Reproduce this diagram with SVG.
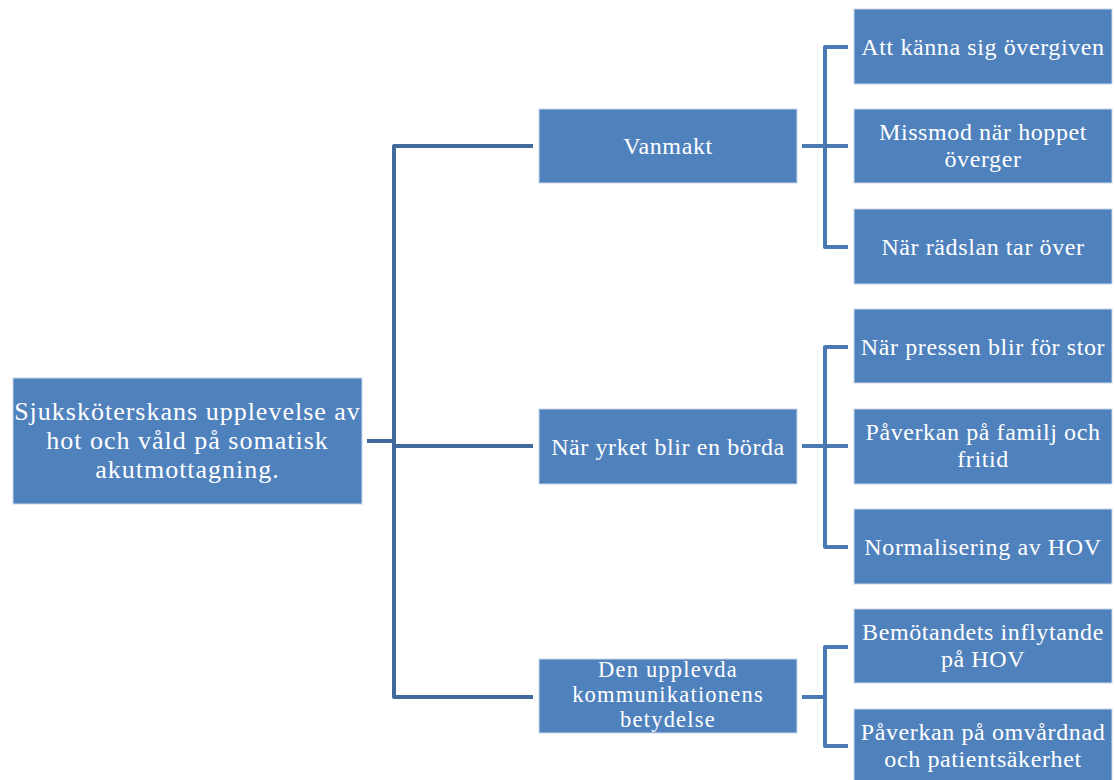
<svg xmlns="http://www.w3.org/2000/svg" width="1115" height="780" viewBox="0 0 1115 780">
<style>
.box{fill:#4F81BD;stroke:#c9d7ea;stroke-width:1}
.t{font-family:"Liberation Serif","DejaVu Serif",serif;fill:#ffffff;text-anchor:middle;font-size:24px;letter-spacing:0.6px}
.root{font-size:26px;letter-spacing:1px}
.tight{font-size:22.5px;letter-spacing:1.2px}
.cl{fill:none;stroke:#41699c;stroke-width:4;stroke-linejoin:round;stroke-linecap:butt}
.cr{fill:none;stroke:#4a79b4;stroke-width:4;stroke-linejoin:round;stroke-linecap:butt}
</style>
<rect width="1115" height="780" fill="#ffffff"/>
<g id="connectors">
<path class="cl" d="M367 441 H394"/>
<path class="cl" d="M533 146 H394 V697 H533"/>
<path class="cl" d="M394 446 H533"/>
<path class="cr" d="M802 146 H825"/>
<path class="cr" d="M848 47 H825 V247 H848"/>
<path class="cr" d="M825 146 H848"/>
<path class="cr" d="M802 446 H825"/>
<path class="cr" d="M848 347 H825 V547 H848"/>
<path class="cr" d="M825 446 H848"/>
<path class="cr" d="M802 697 H825"/>
<path class="cr" d="M848 647 H825 V746 H848"/>
</g>
<g id="root"><rect class="box" x="13" y="378" width="349" height="126"/>
<text class="t root" x="187.5"><tspan x="187.5" y="420">Sjuksköterskans upplevelse av</tspan><tspan x="187.5" y="449">hot och våld på somatisk</tspan><tspan x="187.5" y="478">akutmottagning.</tspan></text></g>
<g id="vanmakt"><rect class="box" x="539" y="109" width="258" height="74"/>
<text class="t" x="668" y="154">Vanmakt</text></g>
<g id="yrket"><rect class="box" x="539" y="409" width="258" height="75"/>
<text class="t" x="668" y="455">När yrket blir en börda</text></g>
<g id="kommunikation"><rect class="box" x="539" y="659" width="258" height="74"/>
<text class="t tight"><tspan x="668" y="677">Den upplevda</tspan><tspan x="668" y="702">kommunikationens</tspan><tspan x="668" y="727">betydelse</tspan></text></g>
<g id="c1"><rect class="box" x="854" y="9" width="258" height="75"/>
<text class="t" x="983" y="55">Att känna sig övergiven</text></g>
<g id="c2"><rect class="box" x="854" y="109" width="258" height="74"/>
<text class="t"><tspan x="983" y="140">Missmod när hoppet</tspan><tspan x="983" y="167">överger</tspan></text></g>
<g id="c3"><rect class="box" x="854" y="209" width="258" height="75"/>
<text class="t" x="983" y="255">När rädslan tar över</text></g>
<g id="c4"><rect class="box" x="854" y="309" width="258" height="74"/>
<text class="t" x="983" y="355">När pressen blir för stor</text></g>
<g id="c5"><rect class="box" x="854" y="409" width="258" height="75"/>
<text class="t"><tspan x="983" y="440">Påverkan på familj och</tspan><tspan x="983" y="467">fritid</tspan></text></g>
<g id="c6"><rect class="box" x="854" y="509" width="258" height="75"/>
<text class="t" x="983" y="555">Normalisering av HOV</text></g>
<g id="c7"><rect class="box" x="854" y="609" width="258" height="74"/>
<text class="t"><tspan x="983" y="640">Bemötandets inflytande</tspan><tspan x="983" y="667">på HOV</tspan></text></g>
<g id="c8"><rect class="box" x="854" y="709" width="258" height="74"/>
<text class="t"><tspan x="983" y="740">Påverkan på omvårdnad</tspan><tspan x="983" y="767">och patientsäkerhet</tspan></text></g>
</svg>
